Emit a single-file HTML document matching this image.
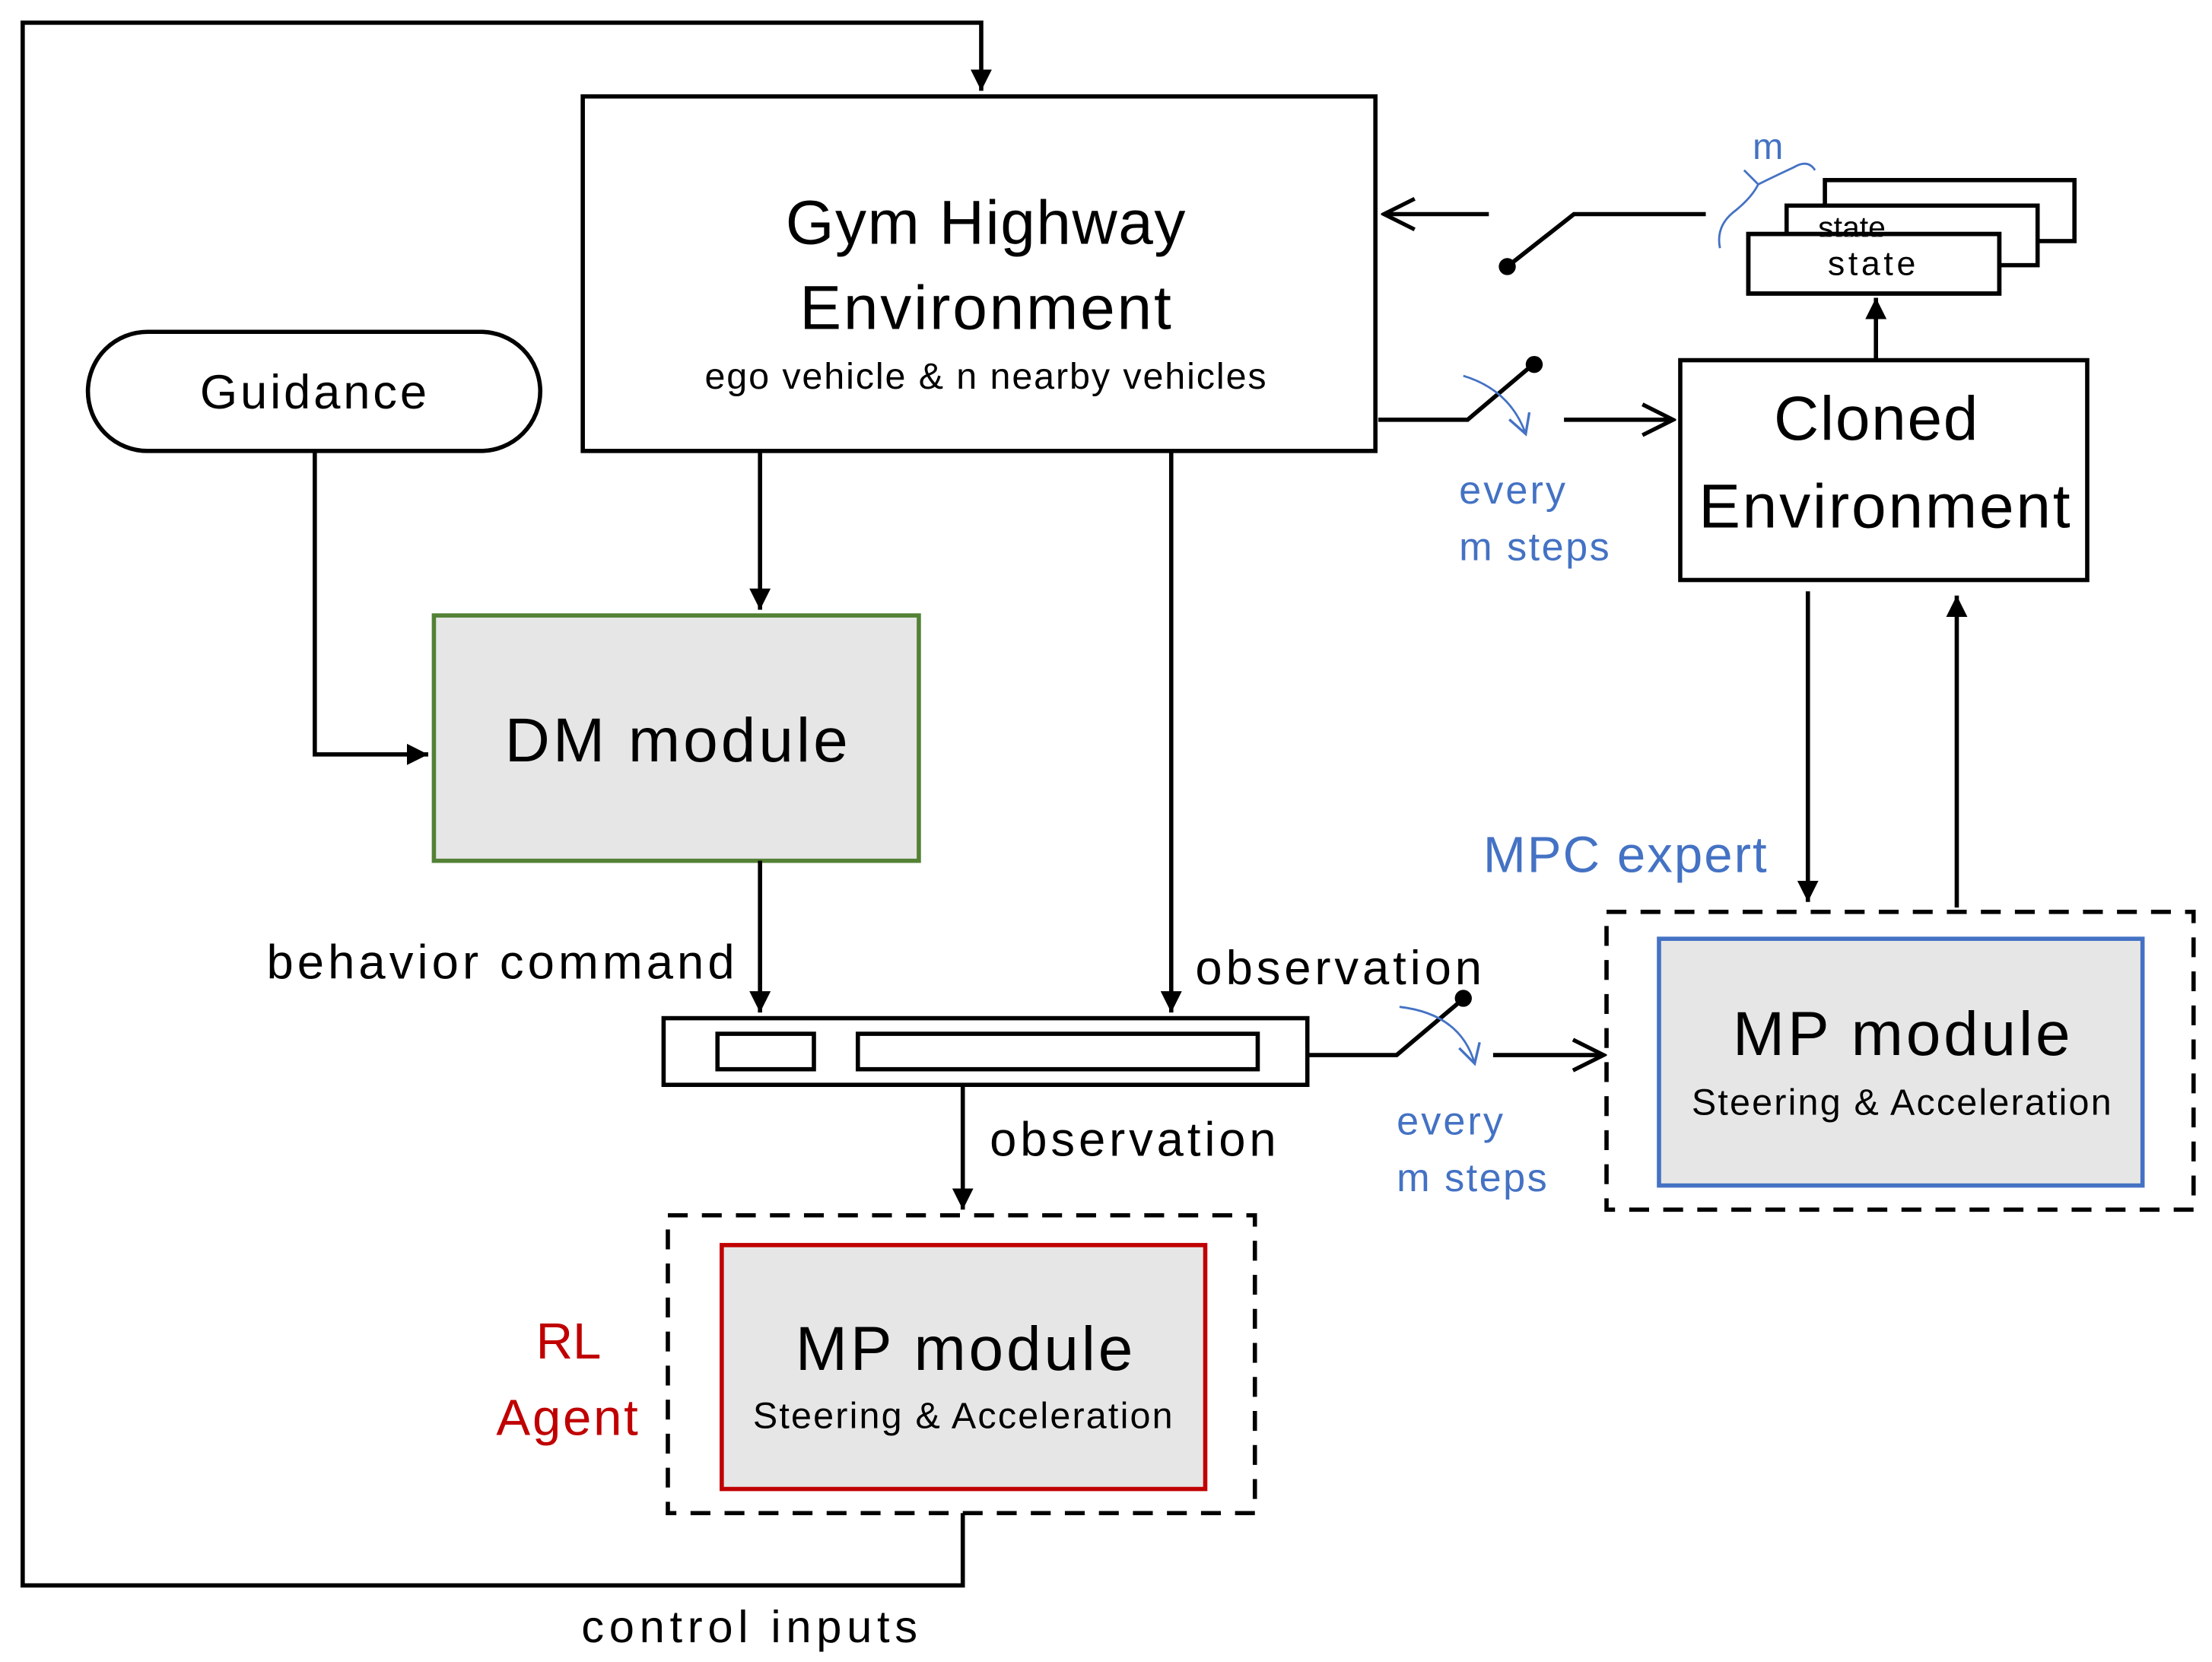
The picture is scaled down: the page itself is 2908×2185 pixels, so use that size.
<!DOCTYPE html>
<html><head><meta charset="utf-8"><style>html,body{margin:0;padding:0;background:#fff}svg{display:block}text{font-family:"Liberation Sans",sans-serif}</style></head><body>
<svg width="2908" height="2185" viewBox="0 0 1560 1172" preserveAspectRatio="none" xmlns="http://www.w3.org/2000/svg">
<defs>
<marker id="a" viewBox="0 0 10 10" refX="10" refY="5" markerWidth="5" markerHeight="5" orient="auto"><path d="M0,0L10,5L0,10z" fill="#000"/></marker>
<marker id="o" viewBox="0 0 12 12" refX="11" refY="6" markerWidth="8" markerHeight="8" orient="auto" markerUnits="userSpaceOnUse"><path d="M1,1L11,6L1,11" fill="none" stroke="#000" stroke-width="1.6"/></marker>
<marker id="o2" viewBox="0 0 12 12" refX="11" refY="6" markerWidth="26" markerHeight="26" orient="auto" markerUnits="userSpaceOnUse"><path d="M1,1L11,6L1,11" fill="none" stroke="#000" stroke-width="1.3"/></marker>
<marker id="b" viewBox="0 0 12 12" refX="10" refY="6" markerWidth="18" markerHeight="18" orient="auto" markerUnits="userSpaceOnUse"><path d="M1,1L10,6L1,11" fill="none" stroke="#4472c4" stroke-width="1.2"/></marker>
</defs>
<g fill="none" stroke="#000" stroke-width="3">
<polyline points="679,1067 679,1118 16,1118 16,16 692,16 692,64" marker-end="url(#a)"/>
<rect x="411" y="68" width="559" height="250"/>
<rect x="62" y="234" width="319" height="84" rx="42"/>
<rect x="306" y="434" width="342" height="173" fill="#e6e6e6" stroke="#538135"/>
<line x1="536" y1="318" x2="536" y2="430" marker-end="url(#a)"/>
<polyline points="222,318 222,532 302,532" marker-end="url(#a)"/>
<line x1="536" y1="607" x2="536" y2="714" marker-end="url(#a)"/>
<line x1="826" y1="318" x2="826" y2="714" marker-end="url(#a)"/>
<rect x="468" y="718" width="454" height="47"/>
<rect x="506" y="729" width="68" height="25"/>
<rect x="605" y="729" width="282" height="25"/>
<line x1="679" y1="765" x2="679" y2="853" marker-end="url(#a)"/>
<rect x="471" y="857" width="414" height="210" stroke-dasharray="14,10"/>
<rect x="509" y="878" width="341" height="172" fill="#e6e6e6" stroke="#c00000"/>
<polyline points="922,744 985,744 1030,706"/>
<line x1="1053" y1="744" x2="1131" y2="744" marker-end="url(#o2)"/>
<rect x="1133" y="643" width="414" height="210" stroke-dasharray="14,10"/>
<rect x="1170" y="662" width="341" height="174" fill="#e6e6e6" stroke="#4472c4"/>
<rect x="1185" y="254" width="287" height="155"/>
<line x1="1275" y1="417" x2="1275" y2="636" marker-end="url(#a)"/>
<line x1="1380" y1="640" x2="1380" y2="420" marker-end="url(#a)"/>
<polyline points="972,296 1035,296 1080,258"/>
<line x1="1103" y1="296" x2="1180" y2="296" marker-end="url(#o2)"/>
<polyline points="1203,151 1110,151 1063,188"/>
<line x1="1050" y1="151" x2="976" y2="151" marker-end="url(#o2)"/>
<rect x="1287" y="127" width="176" height="43" fill="#fff"/>
<rect x="1260" y="145" width="177" height="42" fill="#fff"/>
<rect x="1233" y="165" width="177" height="42" fill="#fff"/>
<line x1="1323" y1="254" x2="1323" y2="210" marker-end="url(#a)"/>
</g>
<g fill="#000"><circle cx="1032" cy="704" r="6"/><circle cx="1082" cy="257" r="6"/><circle cx="1063" cy="188" r="6"/></g>
<g fill="none" stroke="#4472c4" stroke-width="1.5">
<path d="M987,710 Q1030,715 1040,750" marker-end="url(#b)"/>
<path d="M1032,265 Q1065,275 1076,306" marker-end="url(#b)"/>
<path d="M1213,175 Q1210,160 1222,150 Q1235,140 1240,130 L1230,120 M1240,130 Q1250,125 1265,118 Q1275,112 1280,120"/>
</g>
<text x="1306" y="168" font-size="22" text-anchor="middle" fill="#000" clip-path="none">state</text>
<rect x="1235" y="167" width="173" height="38" fill="#fff"/>
<rect x="1233" y="165" width="177" height="42" fill="none" stroke="#000" stroke-width="3"/>
<g fill="#000" text-anchor="middle">
<text x="695" y="172" font-size="44" textLength="282">Gym Highway</text>
<text x="695" y="232" font-size="44" textLength="262">Environment</text>
<text x="695" y="274" font-size="26" textLength="396">ego vehicle &amp; n nearby vehicles</text>
<text x="221" y="288" font-size="34" textLength="160">Guidance</text>
<text x="477" y="537" font-size="44" textLength="242">DM module</text>
<text x="680" y="966" font-size="44" textLength="238">MP module</text>
<text x="679" y="1007" font-size="26" textLength="296">Steering &amp; Acceleration</text>
<text x="1341" y="744" font-size="44" textLength="238">MP module</text>
<text x="1341" y="786" font-size="26" textLength="296">Steering &amp; Acceleration</text>
<text x="1323" y="310" font-size="44" textLength="144">Cloned</text>
<text x="1329" y="372" font-size="44" textLength="262">Environment</text>
<text x="1320" y="194" font-size="24" textLength="62">state</text>
</g>
<g fill="#000">
<text x="188" y="690" font-size="34" textLength="330">behavior command</text>
<text x="843" y="694" font-size="34" textLength="202">observation</text>
<text x="698" y="815" font-size="34" textLength="202">observation</text>
<text x="410" y="1158" font-size="32" textLength="237">control inputs</text>
</g>
<g fill="#c00000" text-anchor="middle">
<text x="401" y="958" font-size="36">RL</text>
<text x="400" y="1012" font-size="36" textLength="100">Agent</text>
</g>
<g fill="#4472c4">
<text x="1046" y="615" font-size="36" textLength="200">MPC expert</text>
<text x="985" y="800" font-size="28" textLength="75">every</text>
<text x="985" y="840" font-size="28" textLength="106">m steps</text>
<text x="1029" y="355" font-size="28" textLength="75">every</text>
<text x="1029" y="395" font-size="28" textLength="106">m steps</text>
<text x="1236" y="112" font-size="26">m</text>
</g>
</svg>
</body></html>
